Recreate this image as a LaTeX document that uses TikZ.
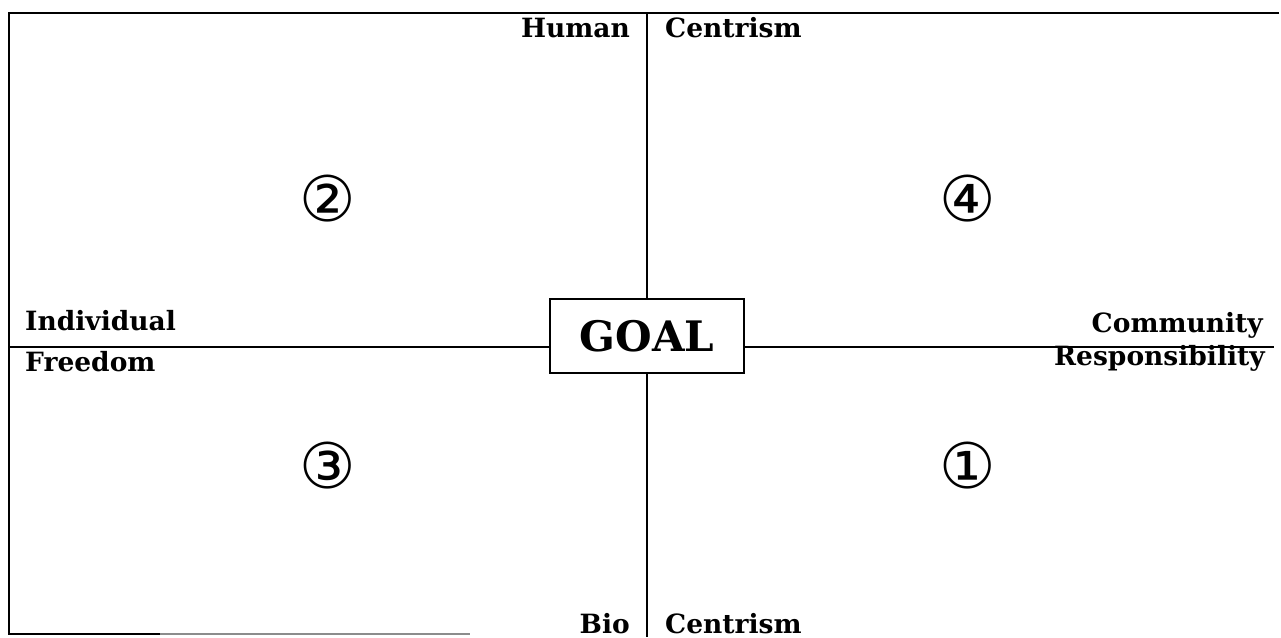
\documentclass[tikz,border=0pt]{standalone}
\usepackage{fontspec}
\setmainfont{DejaVu Serif}
\newfontfamily\circfont{DejaVu Sans}
\begin{document}
\begin{tikzpicture}[x=1pt,y=-1pt,
  lbl/.style={font=\fontsize{26.5}{30}\selectfont\bfseries, inner sep=0pt},
  num/.style={font=\fontsize{63}{70}\circfont, inner sep=0pt},
  axis/.style={line width=1.3pt, black},
  frame/.style={line width=1.8pt, black}]
\useasboundingbox (0,0) rectangle (1281,637);
% frame
\coordinate (TR) at (1279,13);
\coordinate (TL) at (9,13);
\coordinate (BL) at (9,634);
\coordinate (BM) at (160,634);
\coordinate (BF) at (470,634);
\draw[frame] (TR) -- (TL) -- (BL) -- (BM);
\draw[line width=1.2pt, black!45] (BM) -- (BF);
% goal box
\node[draw, line width=2.4pt, minimum width=194pt, minimum height=74pt, inner sep=0pt,
      font=\fontsize{42}{48}\selectfont\bfseries] (goal) at (647,336) {GOAL};
% axes
\coordinate (HL) at (9,347);
\coordinate (HR) at (1274,347);
\coordinate (VT) at (647,13);
\coordinate (VB) at (647,637);
\draw[axis] (HL) -- (HL -| goal.west);
\draw[axis] (HR -| goal.east) -- (HR);
\draw[axis] (VT) -- (goal.north);
\draw[axis] (goal.south) -- (VB);
% labels
\node[lbl, anchor=base east] (human) at (630,37) {Human};
\node[lbl, anchor=base west] (centT) at (665,37) {Centrism};
\node[lbl, anchor=base east] (bio) at (630,633) {Bio};
\node[lbl, anchor=base west] (centB) at (665,633) {Centrism};
\node[lbl, anchor=base west] (indiv) at (25,330) {Individual};
\node[lbl, anchor=base west] (free) at (25,371) {Freedom};
\node[lbl, anchor=base east] (comm) at (1263,332) {Community};
\node[lbl, anchor=base east] (resp) at (1265,365) {Responsibility};
% numbers
\node[num] (n2) at (328,199) {②};
\node[num] (n4) at (968,199) {④};
\node[num] (n3) at (328,466) {③};
\node[num] (n1) at (968,466) {①};
\end{tikzpicture}
\end{document}
